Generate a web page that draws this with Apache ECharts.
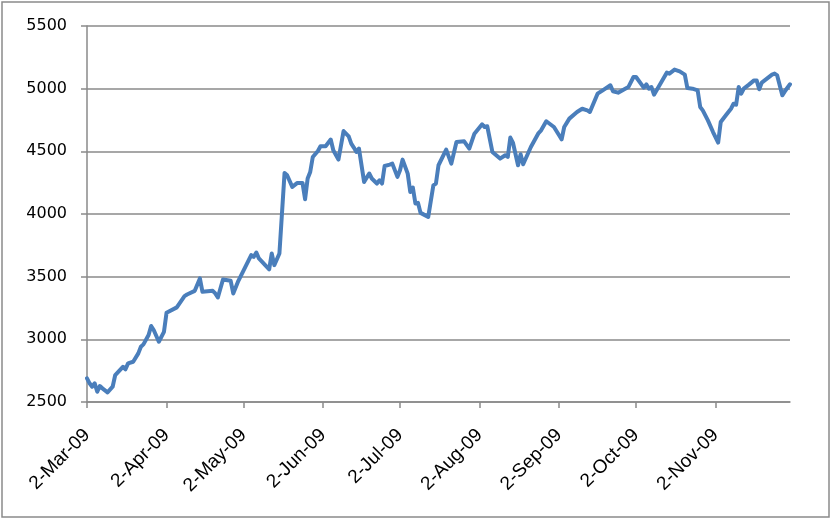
<!DOCTYPE html>
<html>
<head>
<meta charset="utf-8">
<script src="https://cdn.jsdelivr.net/npm/echarts@6/dist/echarts.min.js"></script>
<style>html,body{margin:0;padding:0;background:#fff;}#c{width:831px;height:521px;}</style>
</head>
<body>
<div id="c"></div>
<script>
// Days since 2-Mar-09 for each reading
const dayOffsets = [0,1,2,3,4,5,6,8,10,11,12,14,15,16,18,20,21,22,24,25,26,28,30,31,35,38,39,42,44,45,49,50,51,53,56,57,59,64,65,66,67,71,72,73,75,77,78,80,82,84,85,86,87,88,90,91,93,95,96,98,100,102,103,104,105,106,108,110,111,113,114,115,116,118,119,121,122,123,125,126,127,128,129,130,133,135,136,137,140,142,144,147,149,151,154,155,156,158,161,163,164,165,166,168,169,170,173,176,177,179,182,184,185,186,188,191,193,195,196,199,201,204,205,207,211,213,214,217,218,219,220,221,225,226,227,229,231,233,234,236,238,239,240,242,244,246,247,249,251,252,253,254,255,256,258,260,261,262,263,265,267,268,269,271,272,274];
const indexValues = [2689,2649,2622,2649,2582,2628,2609,2577,2622,2715,2737,2781,2761,2808,2821,2888,2941,2960,3034,3106,3074,2981,3060,3212,3255,3345,3358,3387,3486,3379,3387,3366,3334,3478,3467,3366,3467,3672,3658,3693,3645,3558,3685,3592,3685,4328,4309,4216,4248,4248,4118,4283,4335,4455,4503,4540,4540,4594,4508,4434,4662,4620,4562,4530,4495,4522,4256,4323,4283,4243,4269,4243,4383,4394,4402,4296,4349,4434,4322,4176,4211,4084,4089,4009,3977,4229,4243,4389,4514,4402,4575,4580,4522,4641,4716,4694,4700,4495,4442,4469,4455,4610,4570,4389,4477,4397,4535,4646,4668,4740,4694,4628,4596,4694,4761,4814,4840,4827,4814,4960,4987,5027,4979,4968,5013,5093,5093,5008,5034,5000,5013,4952,5093,5128,5120,5152,5138,5112,5005,5000,4987,4854,4827,4747,4654,4570,4734,4788,4840,4880,4872,5013,4960,5000,5032,5066,5066,4995,5048,5080,5112,5120,5106,4947,4979,5035];
// X-axis ticks (days since 2-Mar-09) and their labels
const tickDays = [0,31,61,92,122,153,184,214,245];
const tickLabels = ['2-Mar-09','2-Apr-09','2-May-09','2-Jun-09','2-Jul-09','2-Aug-09','2-Sep-09','2-Oct-09','2-Nov-09'];
const xMaxDay = 274;
const yTicks = [2500,3000,3500,4000,4500,5000,5500];

const chart = echarts.init(document.getElementById('c'), null, {renderer:'canvas'});
const seriesData = dayOffsets.map((d,i)=>[d, indexValues[i]]);
const axisGray = '#8a8a8a';
chart.setOption({
  animation:false,
  backgroundColor:'#fff',
  graphic:[{type:'rect', shape:{x:2,y:2,width:827,height:515}, style:{fill:'none', stroke:axisGray, lineWidth:1.5}, silent:true, z:-1}],
  grid:{left:87,right:41,top:26,bottom:119,containLabel:false},
  xAxis:{
    type:'value', min:0, max:xMaxDay,
    axisLine:{show:true, lineStyle:{color:axisGray, width:1.5}},
    axisTick:{show:true, customValues:tickDays, length:6, lineStyle:{color:axisGray, width:1.5}},
    splitLine:{show:false},
    axisLabel:{
      customValues:tickDays, rotate:45, margin:30,
      fontFamily:'Liberation Sans', fontSize:19, color:'#000',
      formatter:function(v){const i=tickDays.indexOf(Math.round(v));return i>=0?tickLabels[i]:'';}
    }
  },
  yAxis:{
    type:'value', min:yTicks[0], max:yTicks[yTicks.length-1], interval:500,
    axisLine:{show:true, lineStyle:{color:axisGray, width:1.5}},
    axisTick:{show:true, length:6, lineStyle:{color:axisGray, width:1.5}},
    splitLine:{show:true, lineStyle:{color:axisGray, width:1.5}},
    axisLabel:{margin:20, fontFamily:'DejaVu Sans', fontSize:16, color:'#000',
      formatter:function(v){return String(v);}}
  },
  series:[{
    type:'line', data:seriesData, showSymbol:false, smooth:false,
    lineStyle:{color:'#4a7ebb', width:4, join:'round', cap:'round'},
    itemStyle:{color:'#4a7ebb'}
  }]
});
</script>
</body>
</html>
